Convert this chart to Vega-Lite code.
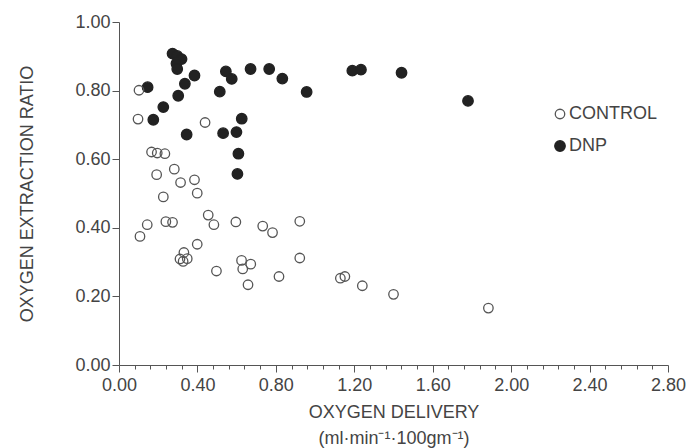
{
  "$schema": "https://vega.github.io/schema/vega-lite/v6.json",
  "width": 549,
  "height": 343,
  "autosize": {"type": "none"},
  "padding": {"left": 119, "top": 22, "right": 19, "bottom": 83},
  "background": "white",
  "config": {
    "view": {"stroke": null},
    "font": "Liberation Sans",
    "axis": {
      "grid": false,
      "domainColor": "#555",
      "tickColor": "#555",
      "labelColor": "#444",
      "titleColor": "#444",
      "labelFontSize": 18,
      "titleFontSize": 18,
      "titleFontWeight": "normal",
      "labelFlush": false,
      "labelOverlap": false
    }
  },
  "data": {
    "values": [
      {"delivery": 0.273, "ratio": 0.908, "group": "DNP"},
      {"delivery": 0.297, "ratio": 0.901, "group": "DNP"},
      {"delivery": 0.319, "ratio": 0.892, "group": "DNP"},
      {"delivery": 0.293, "ratio": 0.879, "group": "DNP"},
      {"delivery": 0.297, "ratio": 0.863, "group": "DNP"},
      {"delivery": 0.385, "ratio": 0.844, "group": "DNP"},
      {"delivery": 0.336, "ratio": 0.82, "group": "DNP"},
      {"delivery": 0.302, "ratio": 0.785, "group": "DNP"},
      {"delivery": 0.226, "ratio": 0.752, "group": "DNP"},
      {"delivery": 0.146, "ratio": 0.81, "group": "DNP"},
      {"delivery": 0.175, "ratio": 0.715, "group": "DNP"},
      {"delivery": 0.514, "ratio": 0.797, "group": "DNP"},
      {"delivery": 0.545, "ratio": 0.856, "group": "DNP"},
      {"delivery": 0.575, "ratio": 0.834, "group": "DNP"},
      {"delivery": 0.671, "ratio": 0.863, "group": "DNP"},
      {"delivery": 0.766, "ratio": 0.863, "group": "DNP"},
      {"delivery": 0.833, "ratio": 0.835, "group": "DNP"},
      {"delivery": 0.957, "ratio": 0.796, "group": "DNP"},
      {"delivery": 1.19, "ratio": 0.858, "group": "DNP"},
      {"delivery": 1.234, "ratio": 0.861, "group": "DNP"},
      {"delivery": 1.441, "ratio": 0.852, "group": "DNP"},
      {"delivery": 1.78, "ratio": 0.77, "group": "DNP"},
      {"delivery": 0.626, "ratio": 0.718, "group": "DNP"},
      {"delivery": 0.345, "ratio": 0.672, "group": "DNP"},
      {"delivery": 0.531, "ratio": 0.676, "group": "DNP"},
      {"delivery": 0.599, "ratio": 0.679, "group": "DNP"},
      {"delivery": 0.609, "ratio": 0.616, "group": "DNP"},
      {"delivery": 0.604, "ratio": 0.557, "group": "DNP"},
      {"delivery": 0.102, "ratio": 0.801, "group": "CONTROL"},
      {"delivery": 0.097, "ratio": 0.717, "group": "CONTROL"},
      {"delivery": 0.439, "ratio": 0.707, "group": "CONTROL"},
      {"delivery": 0.166, "ratio": 0.621, "group": "CONTROL"},
      {"delivery": 0.195, "ratio": 0.618, "group": "CONTROL"},
      {"delivery": 0.234, "ratio": 0.616, "group": "CONTROL"},
      {"delivery": 0.192, "ratio": 0.555, "group": "CONTROL"},
      {"delivery": 0.282, "ratio": 0.571, "group": "CONTROL"},
      {"delivery": 0.314, "ratio": 0.532, "group": "CONTROL"},
      {"delivery": 0.385, "ratio": 0.54, "group": "CONTROL"},
      {"delivery": 0.226, "ratio": 0.49, "group": "CONTROL"},
      {"delivery": 0.399, "ratio": 0.501, "group": "CONTROL"},
      {"delivery": 0.455, "ratio": 0.437, "group": "CONTROL"},
      {"delivery": 0.484, "ratio": 0.409, "group": "CONTROL"},
      {"delivery": 0.144, "ratio": 0.409, "group": "CONTROL"},
      {"delivery": 0.107, "ratio": 0.375, "group": "CONTROL"},
      {"delivery": 0.239, "ratio": 0.418, "group": "CONTROL"},
      {"delivery": 0.273, "ratio": 0.416, "group": "CONTROL"},
      {"delivery": 0.596, "ratio": 0.417, "group": "CONTROL"},
      {"delivery": 0.733, "ratio": 0.405, "group": "CONTROL"},
      {"delivery": 0.783, "ratio": 0.386, "group": "CONTROL"},
      {"delivery": 0.922, "ratio": 0.419, "group": "CONTROL"},
      {"delivery": 0.399, "ratio": 0.352, "group": "CONTROL"},
      {"delivery": 0.331, "ratio": 0.328, "group": "CONTROL"},
      {"delivery": 0.311, "ratio": 0.309, "group": "CONTROL"},
      {"delivery": 0.348, "ratio": 0.31, "group": "CONTROL"},
      {"delivery": 0.327, "ratio": 0.302, "group": "CONTROL"},
      {"delivery": 0.497, "ratio": 0.274, "group": "CONTROL"},
      {"delivery": 0.625, "ratio": 0.305, "group": "CONTROL"},
      {"delivery": 0.672, "ratio": 0.294, "group": "CONTROL"},
      {"delivery": 0.631, "ratio": 0.28, "group": "CONTROL"},
      {"delivery": 0.658, "ratio": 0.234, "group": "CONTROL"},
      {"delivery": 0.816, "ratio": 0.258, "group": "CONTROL"},
      {"delivery": 0.922, "ratio": 0.312, "group": "CONTROL"},
      {"delivery": 1.129, "ratio": 0.253, "group": "CONTROL"},
      {"delivery": 1.152, "ratio": 0.258, "group": "CONTROL"},
      {"delivery": 1.241, "ratio": 0.231, "group": "CONTROL"},
      {"delivery": 1.4, "ratio": 0.206, "group": "CONTROL"},
      {"delivery": 1.884, "ratio": 0.166, "group": "CONTROL"}
    ]
  },
  "mark": {"type": "point", "shape": "circle", "strokeWidth": 1.3, "opacity": 1},
  "encoding": {
    "x": {
      "field": "delivery",
      "type": "quantitative",
      "scale": {"domain": [0, 2.8], "nice": false, "zero": false},
      "axis": {
        "title": ["OXYGEN DELIVERY", "(ml·min⁻¹·100gm⁻¹)"],
        "values": [0, 0.08, 0.16, 0.24, 0.32, 0.4, 0.48, 0.56, 0.64, 0.72, 0.8, 0.88, 0.96, 1.04, 1.12, 1.2, 1.28, 1.36, 1.44, 1.52, 1.6, 1.68, 1.76, 1.84, 1.92, 2, 2.08, 2.16, 2.24, 2.32, 2.4, 2.48, 2.56, 2.64, 2.72, 2.8],
        "format": ".2f",
        "labelExpr": "abs(datum.value * 2.5 - round(datum.value * 2.5)) < 0.01 ? datum.label : ''",
        "tickSize": {"condition": {"test": "abs(datum.value * 2.5 - round(datum.value * 2.5)) < 0.01", "value": 7}, "value": 4},
        "labelPadding": 4,
        "titlePadding": 9,
        "titleLineHeight": 26
      }
    },
    "y": {
      "field": "ratio",
      "type": "quantitative",
      "scale": {"domain": [0, 1], "nice": false},
      "axis": {
        "title": "OXYGEN EXTRACTION RATIO",
        "values": [0, 0.2, 0.4, 0.6, 0.8, 1],
        "format": ".2f",
        "tickSize": 7,
        "labelPadding": 2,
        "titlePadding": 38
      }
    },
    "fill": {
      "field": "group",
      "type": "nominal",
      "scale": {"domain": ["CONTROL", "DNP"], "range": ["transparent", "#222"]},
      "legend": {
        "orient": "none",
        "legendX": 432,
        "legendY": 83,
        "title": null,
        "labelFontSize": 18,
        "labelColor": "#444",
        "rowPadding": 14,
        "symbolStrokeWidth": 1.3,
        "labelOffset": 0
      }
    },
    "stroke": {
      "field": "group",
      "type": "nominal",
      "scale": {"domain": ["CONTROL", "DNP"], "range": ["#555", "#222"]}
    },
    "size": {
      "field": "group",
      "type": "nominal",
      "scale": {"domain": ["CONTROL", "DNP"], "range": [90, 110]}
    }
  }
}
